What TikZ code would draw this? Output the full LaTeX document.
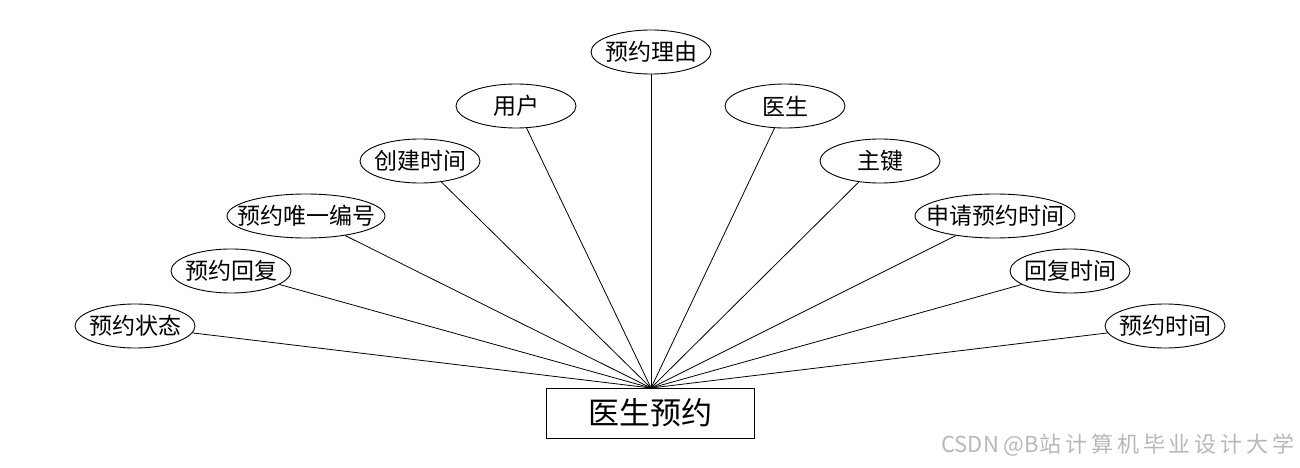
\documentclass[tikz,border=0pt]{standalone}
\usepackage{fontspec}
\setmainfont{Noto Sans CJK SC}
\usetikzlibrary{shapes.geometric}
\newcommand{\zlbl}[1]{\makebox[0pt]{#1}}
\begin{document}
\begin{tikzpicture}[x=1pt,y=-1pt,
  attr/.style={ellipse,draw,line width=0.9pt,minimum width=120pt,minimum height=44pt,inner sep=0pt,font=\fontsize{23}{25}\selectfont},
  ent/.style={rectangle,draw,line width=0.9pt,minimum width=208pt,minimum height=50pt,inner sep=0pt,font=\fontsize{31}{33}\selectfont},
  link/.style={line width=0.8pt},
  wmark/.style={anchor=east,text=black!28,font=\fontsize{22}{24}\selectfont,inner sep=0pt}]
\useasboundingbox (0,0) rectangle (1300,468);
\node[ent] (e) at (650,413) {医生预约};
\coordinate (hub) at (651,388);
\node[attr] (a1) at (651,52) {\zlbl{预约理由}};
\node[attr] (a2) at (516,106) {\zlbl{用户}};
\node[attr] (a3) at (785,106) {\zlbl{医生}};
\node[attr] (a4) at (420,161) {\zlbl{创建时间}};
\node[attr] (a5) at (880,161) {\zlbl{主键}};
\node[attr,minimum width=158pt] (a6) at (306,216) {\zlbl{预约唯一编号}};
\node[attr,minimum width=160pt] (a7) at (995,216) {\zlbl{申请预约时间}};
\node[attr] (a8) at (231,271) {\zlbl{预约回复}};
\node[attr] (a9) at (1070,271) {\zlbl{回复时间}};
\node[attr] (a10) at (135,326) {\zlbl{预约状态}};
\node[attr] (a11) at (1165,326) {\zlbl{预约时间}};
\foreach \n in {a1,a2,a3,a4,a5,a6,a7,a8,a9,a10,a11}
  \draw[link] (hub) -- (\n);
\node[wmark] (wm) at (1295,445) {CSDN @B{\addfontfeature{LetterSpace=18}站计算机毕业设计大学}};
\end{tikzpicture}
\end{document}
